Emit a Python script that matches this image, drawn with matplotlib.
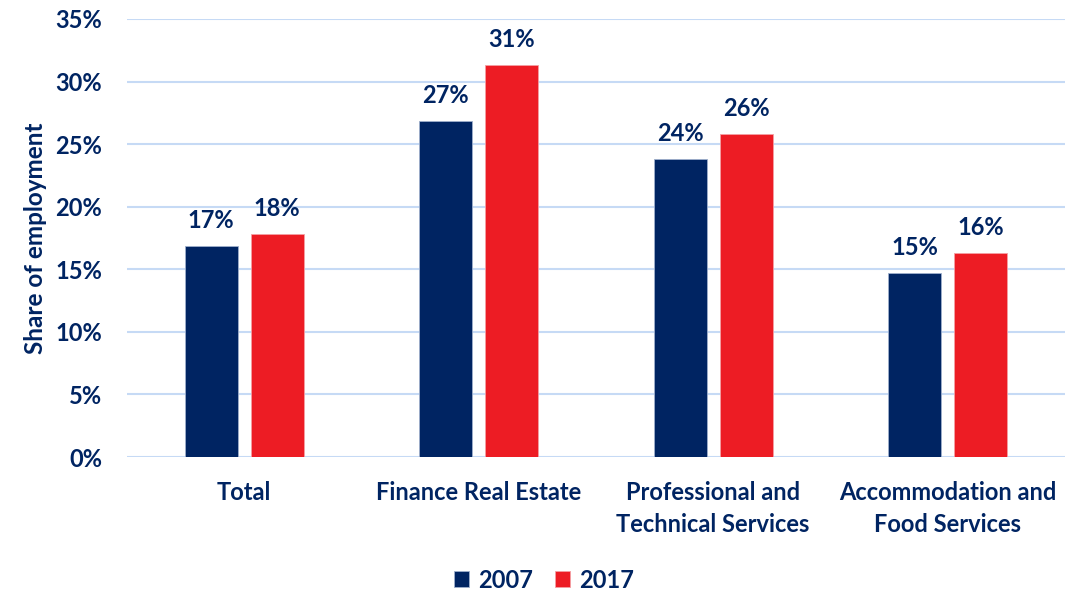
import matplotlib
matplotlib.use("Agg")
import matplotlib.pyplot as plt
import numpy as np
from matplotlib.ticker import FuncFormatter, MultipleLocator

categories = ["Total", "Finance Real Estate", "Professional and\nTechnical Services",
              "Accommodation and\nFood Services"]
years = ["2007", "2017"]
values_2007 = [16.87, 26.86, 23.82, 14.71]
values_2017 = [17.83, 31.33, 25.82, 16.31]
labels_2007 = ["17%", "27%", "24%", "15%"]
labels_2017 = ["18%", "31%", "26%", "16%"]

NAVY = "#002462"
RED = "#ED1C24"
GRID = "#C6DAF5"
FS = 17

plt.rcParams['font.family'] = ['Lato', 'DejaVu Sans']
plt.rcParams['font.weight'] = 'bold'

fig = plt.figure(figsize=(10.88, 5.92), dpi=100)
ax = fig.add_axes([0.1167, 0.228, 0.862, 0.740])

x = np.arange(len(categories))
w = 0.226
off = 0.141
b1 = ax.bar(x - off, values_2007, w, color=NAVY, edgecolor="#9fb0cc", linewidth=0.6,
            label=years[0], zorder=3)
b2 = ax.bar(x + off, values_2017, w, color=RED, edgecolor="#f4a0a3", linewidth=0.6,
            label=years[1], zorder=3)

for bars, labs in ((b1, labels_2007), (b2, labels_2017)):
    for rect, lab in zip(bars, labs):
        ax.annotate(lab, (rect.get_x() + rect.get_width() / 2, rect.get_height()),
                    xytext=(0, 10), textcoords="offset points", ha="center", va="bottom",
                    fontsize=FS, fontweight="bold", color=NAVY)

ax.set_xlim(-0.5, len(categories) - 0.5)
ax.set_ylim(0, 35)
ax.yaxis.set_major_locator(MultipleLocator(5))
ax.yaxis.set_major_formatter(FuncFormatter(lambda v, p: f"{v:.0f}%"))
ax.grid(axis="y", color=GRID, linewidth=1.5, zorder=0)
ax.set_axisbelow(True)
for s in ax.spines.values():
    s.set_visible(False)
ax.tick_params(axis="both", length=0, labelsize=FS, labelcolor=NAVY)
ax.tick_params(axis="y", pad=18)
ax.tick_params(axis="x", pad=17)
ax.set_xticks(x)
ax.set_xticklabels(categories, fontweight="bold", linespacing=1.5)
for t in ax.get_yticklabels():
    t.set_fontweight("bold")
ax.set_ylabel("Share of employment", fontsize=17.5, fontweight="bold", color=NAVY, labelpad=6)

leg = fig.legend(handles=[b1, b2], labels=years, loc="center", bbox_to_anchor=(0.5, 0.02),
                 ncol=2, frameon=False, fontsize=FS, handlelength=0.65, handleheight=0.65,
                 handletextpad=0.4, columnspacing=0.9)
for t in leg.get_texts():
    t.set_color(NAVY)
    t.set_fontweight("bold")

fig.savefig("out.png", dpi=100)
